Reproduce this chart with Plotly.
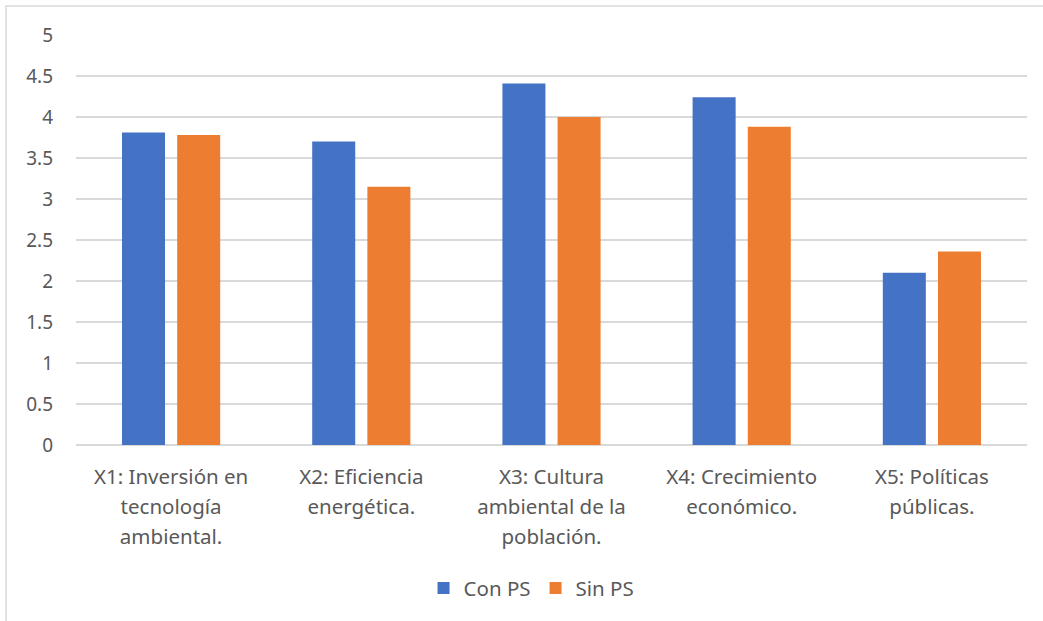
import plotly.graph_objects as go

categories = ["X1", "X2", "X3", "X4", "X5"]
category_lines = [
    ["X1: Inversión en", "tecnología", "ambiental."],
    ["X2: Eficiencia", "energética."],
    ["X3: Cultura", "ambiental de la", "población."],
    ["X4: Crecimiento", "económico."],
    ["X5: Políticas", "públicas."],
]
con_ps = [3.81, 3.70, 4.41, 4.24, 2.10]
sin_ps = [3.78, 3.15, 4.00, 3.88, 2.36]
y_ticks = [0, 0.5, 1, 1.5, 2, 2.5, 3, 3.5, 4, 4.5, 5]
y_tick_text = ["0", "0.5", "1", "1.5", "2", "2.5", "3", "3.5", "4", "4.5", "5"]

FONT = "Noto Sans"
TXT = "#595959"

tick_text = [
    "<br>".join("<span style='font-size:20.5px'>%s</span>" % l for l in lines)
    for lines in category_lines
]

fig = go.Figure()
fig.add_trace(go.Bar(name="Con PS", x=categories, y=con_ps, marker_color="#4472C4",
                     marker_line_width=0))
fig.add_trace(go.Bar(name="Sin PS", x=categories, y=sin_ps, marker_color="#ED7D31",
                     marker_line_width=0))

fig.update_layout(
    width=1043, height=621,
    margin=dict(l=76, r=16, t=35, b=176),
    paper_bgcolor="white", plot_bgcolor="white",
    barmode="group", bargap=0.42, bargroupgap=0.22,
    font=dict(family=FONT, color=TXT, size=19),
    showlegend=True,
    legend=dict(orientation="h", x=0.479, xanchor="center", y=-0.349, yanchor="middle",
                font=dict(size=20.5, color=TXT), itemwidth=30, traceorder="normal"),
    xaxis=dict(tickmode="array", tickvals=categories, ticktext=tick_text,
               tickfont=dict(size=23, color=TXT, family=FONT), showgrid=False,
               showline=False, ticks="", ticklabelstandoff=15),
    yaxis=dict(range=[0, 5], tickmode="array", tickvals=y_ticks, ticktext=y_tick_text,
               showgrid=True, gridcolor="#d9d9d9", gridwidth=1.5,
               zeroline=True, zerolinecolor="#d9d9d9", zerolinewidth=1.5,
               tickfont=dict(size=19, color=TXT, family=FONT), ticks="",
               ticklabelstandoff=22, showline=False),
    shapes=[dict(type="rect", xref="paper", yref="paper",
                 x0=-0.0736, x1=1.02, y0=-0.445, y1=1.0707,
                 line=dict(color="#d9d9d9", width=1.5), fillcolor="rgba(0,0,0,0)",
                 layer="below")],
)

fig.write_html("out.html", config={"displayModeBar": False},
               post_script="document.body.style.margin='0px';")
